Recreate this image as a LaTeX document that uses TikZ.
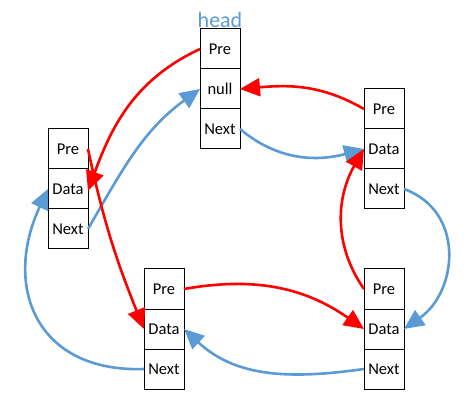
\documentclass[tikz,border=0pt]{standalone}
\usepackage{fontspec}
\setmainfont{Carlito}
\usepackage{tikz}
\usetikzlibrary{positioning,arrows.meta}
\definecolor{linkblue}{HTML}{5B9BD5}
\tikzstyle{cell} = [rectangle, draw, line width=1pt, minimum width=40pt, minimum height=40pt, inner sep=0pt, outer sep=0pt, font=\fontsize{16.5}{19}\selectfont]
\tikzstyle{prev} = [draw=red, line width=2.6pt, -{Triangle[length=20pt,width=18pt]}]
\tikzstyle{next} = [draw=linkblue, line width=2.6pt, -{Triangle[length=20pt,width=18pt]}]

\begin{document}
\begin{tikzpicture}[x=1pt,y=-1pt]
   \useasboundingbox (0,0) rectangle (471,403);
   % head
   \node[cell] (hpre)  at (220,49)             {Pre};
   \node[cell] (hnull) [below=0pt of hpre]     {null};
   \node[cell] (hnext) [below=0pt of hnull]    {Next};
   \node[text=linkblue, font=\fontsize{22}{24}\selectfont, above=-2pt of hpre] (head) {head};
   % node 1
   \node[cell] (apre)  at (384,109)            {Pre};
   \node[cell] (adata) [below=0pt of apre]     {Data};
   \node[cell] (anext) [below=0pt of adata]    {Next};
   % node 2
   \node[cell] (bpre)  at (384,289)            {Pre};
   \node[cell] (bdata) [below=0pt of bpre]     {Data};
   \node[cell] (bnext) [below=0pt of bdata]    {Next};
   % node 3
   \node[cell] (cpre)  at (164,289)            {Pre};
   \node[cell] (cdata) [below=0pt of cpre]     {Data};
   \node[cell] (cnext) [below=0pt of cdata]    {Next};
   % node 4
   \node[cell] (dpre)  at (68,149)             {Pre};
   \node[cell] (ddata) [below=0pt of dpre]     {Data};
   \node[cell] (dnext) [below=0pt of ddata]    {Next};
   % next links
   \draw[next] (hnext.east) to[out=-40,in=195]  (adata.west);
   \draw[next] (anext.east) to[out=-20,in=35,looseness=1.2]   (bdata.east);
   \draw[next] (bnext.west) to[out=188,in=-43]  (cdata.east);
   \draw[next] (cnext.west) to[out=182,in=-115,looseness=1.35] (ddata.west);
   \draw[next] (dnext.east) to[out=60,in=-144]  (hnull.west);
   % pre links
   \draw[prev] (hpre.west)  to[out=205,in=70]   ([yshift=-2pt]ddata.east);
   \draw[prev] (dpre.east)  to[out=-78,in=112]  (cdata.west);
   \draw[prev] (cpre.east)  to[out=10,in=145]   (bdata.west);
   \draw[prev] (bpre.west)  to[out=125,in=-120] (adata.west);
   \draw[prev] (apre.west)  to[out=150,in=5]    (hnull.east);
\end{tikzpicture}
\end{document}
